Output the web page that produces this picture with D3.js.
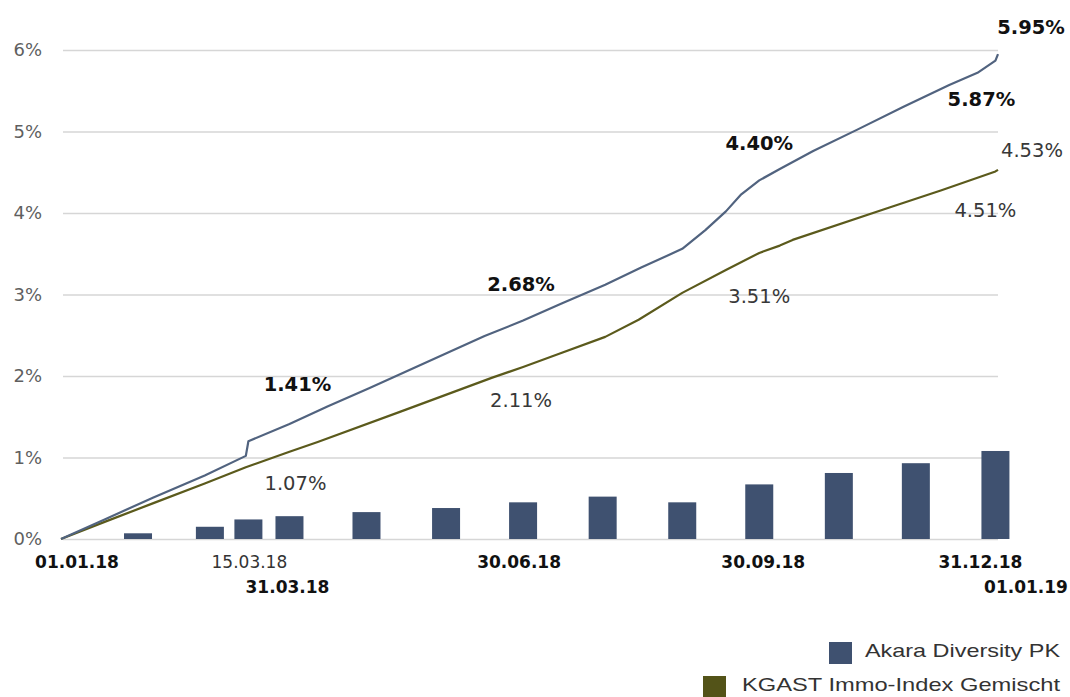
<!DOCTYPE html>
<html>
<head>
<meta charset="utf-8">
<script src="https://cdn.jsdelivr.net/npm/d3@7"></script>
<style>
  html, body { margin: 0; padding: 0; background: #ffffff; }
  svg { display: block; }
</style>
</head>
<body>
<svg id="chart" width="1070" height="697"></svg>
<script>
// Cumulative performance 2018, in percent
const akaraDates = ["01.01.18","18.01.18","06.02.18","26.02.18","14.03.18","15.03.18","31.03.18","15.04.18","01.05.18","15.05.18","01.06.18","15.06.18","30.06.18","15.07.18","01.08.18","15.08.18","31.08.18","09.09.18","17.09.18","23.09.18","30.09.18","08.10.18","21.10.18","07.11.18","25.11.18","13.12.18","24.12.18","31.12.18","01.01.19"];
const akaraValues = [0, 0.24, 0.51, 0.78, 1.02, 1.20, 1.41, 1.63, 1.85, 2.05, 2.29, 2.49, 2.68, 2.89, 3.12, 3.33, 3.56, 3.79, 4.02, 4.23, 4.40, 4.54, 4.76, 5.02, 5.30, 5.57, 5.72, 5.87, 5.95];

const kgastDates = ["01.01.18","18.01.18","06.02.18","26.02.18","14.03.18","31.03.18","11.04.18","13.05.18","18.06.18","30.06.18","13.07.18","01.08.18","14.08.18","31.08.18","17.09.18","30.09.18","08.10.18","13.10.18","20.11.18","10.12.18","31.12.18","01.01.19"];
const kgastValues = [0, 0.21, 0.44, 0.68, 0.88, 1.07, 1.19, 1.56, 1.98, 2.11, 2.26, 2.48, 2.69, 3.02, 3.30, 3.51, 3.60, 3.67, 4.07, 4.28, 4.51, 4.53];

// Monthly bars
const barDates = ["31.01.18","28.02.18","15.03.18","31.03.18","30.04.18","31.05.18","30.06.18","31.07.18","31.08.18","30.09.18","31.10.18","30.11.18","31.12.18"];
const barValues = [0.07, 0.15, 0.24, 0.28, 0.33, 0.38, 0.45, 0.52, 0.45, 0.67, 0.81, 0.93, 1.08];

// Axis ticks
const yTicks = [0, 1, 2, 3, 4, 5, 6];
const xTickDates = ["01.01.18","15.03.18","31.03.18","30.06.18","30.09.18","31.12.18","01.01.19"];
const xTickLabels = ["01.01.18","15.03.18","31.03.18","30.06.18","30.09.18","31.12.18","01.01.19"];

// Dates that get a value label
const labelDates = ["31.03.18","30.06.18","30.09.18","31.12.18","01.01.19"];

const seriesNames = ["Akara Diversity PK", "KGAST Immo-Index Gemischt"];

const parse = d3.timeParse("%d.%m.%y");
const svg = d3.select("#chart");

const x = d3.scaleTime()
  .domain([parse("01.01.18"), parse("01.01.19")])
  .range([61, 998]);
const y = d3.scaleLinear().domain([0, 6]).range([539, 50]);

const COL_BAR = "#3f5170";
const COL_AKARA = "#51637f";
const COL_KGAST = "#5b5a1c";
const COL_KGAST_KEY = "#535318";
const FONT = "'DejaVu Sans', sans-serif";

// Horizontal gridlines + y labels
const yAxis = d3.axisLeft(y)
  .tickValues(yTicks)
  .tickSize(-(998 - 63))
  .tickPadding(21)
  .tickFormat(d => d + "%");

const gy = svg.append("g")
  .attr("transform", "translate(63,0)")
  .call(yAxis);
gy.select(".domain").remove();
gy.selectAll(".tick line")
  .attr("stroke", "#d6d6d6")
  .attr("stroke-width", 1.6);
gy.selectAll(".tick text")
  .attr("font-family", FONT)
  .attr("font-size", 18)
  .attr("fill", "#5f5f5f");

// Bars
const barW = 28;
svg.append("g")
  .selectAll("rect")
  .data(barDates.map((d, i) => ({ date: parse(d), v: barValues[i] })))
  .join("rect")
  .attr("x", d => x(d.date) - barW / 2)
  .attr("y", d => y(d.v))
  .attr("width", barW)
  .attr("height", d => y(0) - y(d.v))
  .attr("fill", COL_BAR);

// Lines
const line = d3.line()
  .x(d => x(d.date))
  .y(d => y(d.v));

const akara = akaraDates.map((d, i) => ({ date: parse(d), v: akaraValues[i] }));
const kgast = kgastDates.map((d, i) => ({ date: parse(d), v: kgastValues[i] }));

svg.append("path")
  .datum(kgast)
  .attr("d", line)
  .attr("fill", "none")
  .attr("stroke", COL_KGAST)
  .attr("stroke-width", 2.2)
  .attr("stroke-linejoin", "round");

svg.append("path")
  .datum(akara)
  .attr("d", line)
  .attr("fill", "none")
  .attr("stroke", COL_AKARA)
  .attr("stroke-width", 2.2)
  .attr("stroke-linejoin", "round");

// Value labels (nudged off the line, in px)
const akaraNudge = [[8, -33], [-2, -30], [0, -30], [-14, 45], [33, -20]];
const kgastNudge = [[6, 38], [-2, 40], [0, 50], [-10, 46], [34, -13]];

function valueLabels(dates, values, nudges, weight, color) {
  const pts = labelDates.map((ld, i) => {
    const k = dates.indexOf(ld);
    return { date: parse(ld), v: values[k], n: nudges[i] };
  });
  svg.append("g")
    .selectAll("text")
    .data(pts)
    .join("text")
    .attr("x", d => x(d.date) + d.n[0])
    .attr("y", d => y(d.v) + d.n[1])
    .attr("text-anchor", "middle")
    .attr("font-family", FONT)
    .attr("font-size", 19.5)
    .attr("font-weight", weight)
    .attr("fill", color)
    .text(d => d.v.toFixed(2) + "%");
}
valueLabels(akaraDates, akaraValues, akaraNudge, "bold", "#111111");
valueLabels(kgastDates, kgastValues, kgastNudge, "normal", "#383838");

// Date labels under the axis: [dx, row, bold]
const xTickLayout = [[16, 0, true], [1, 0, false], [-2, 1, true], [-4, 0, true], [4, 0, true], [-15, 0, true], [28, 1, true]];
svg.append("g")
  .selectAll("text")
  .data(xTickDates.map((d, i) => ({ date: parse(d), label: xTickLabels[i], lay: xTickLayout[i] })))
  .join("text")
  .attr("x", d => x(d.date) + d.lay[0])
  .attr("y", d => d.lay[1] === 0 ? 568 : 593)
  .attr("text-anchor", "middle")
  .attr("font-family", FONT)
  .attr("font-size", 17)
  .attr("font-weight", d => d.lay[2] ? "bold" : "normal")
  .attr("fill", d => d.lay[2] ? "#111111" : "#333333")
  .text(d => d.label);

// Legend
const legend = svg.append("g");
const legendItems = [
  { name: seriesNames[0], color: COL_BAR, sx: 829, sy: 642, tx: 865, ty: 657, w: 195 },
  { name: seriesNames[1], color: COL_KGAST_KEY, sx: 703, sy: 676, tx: 742, ty: 691, w: 318 }
];
legendItems.forEach(it => {
  legend.append("rect")
    .attr("x", it.sx).attr("y", it.sy)
    .attr("width", 23).attr("height", 22)
    .attr("fill", it.color);
  legend.append("text")
    .attr("x", it.tx).attr("y", it.ty)
    .attr("font-family", "'Liberation Sans', Arial, sans-serif")
    .attr("font-size", 19)
    .attr("fill", "#333333")
    .attr("textLength", it.w)
    .attr("lengthAdjust", "spacingAndGlyphs")
    .text(it.name);
});
</script>
</body>
</html>
